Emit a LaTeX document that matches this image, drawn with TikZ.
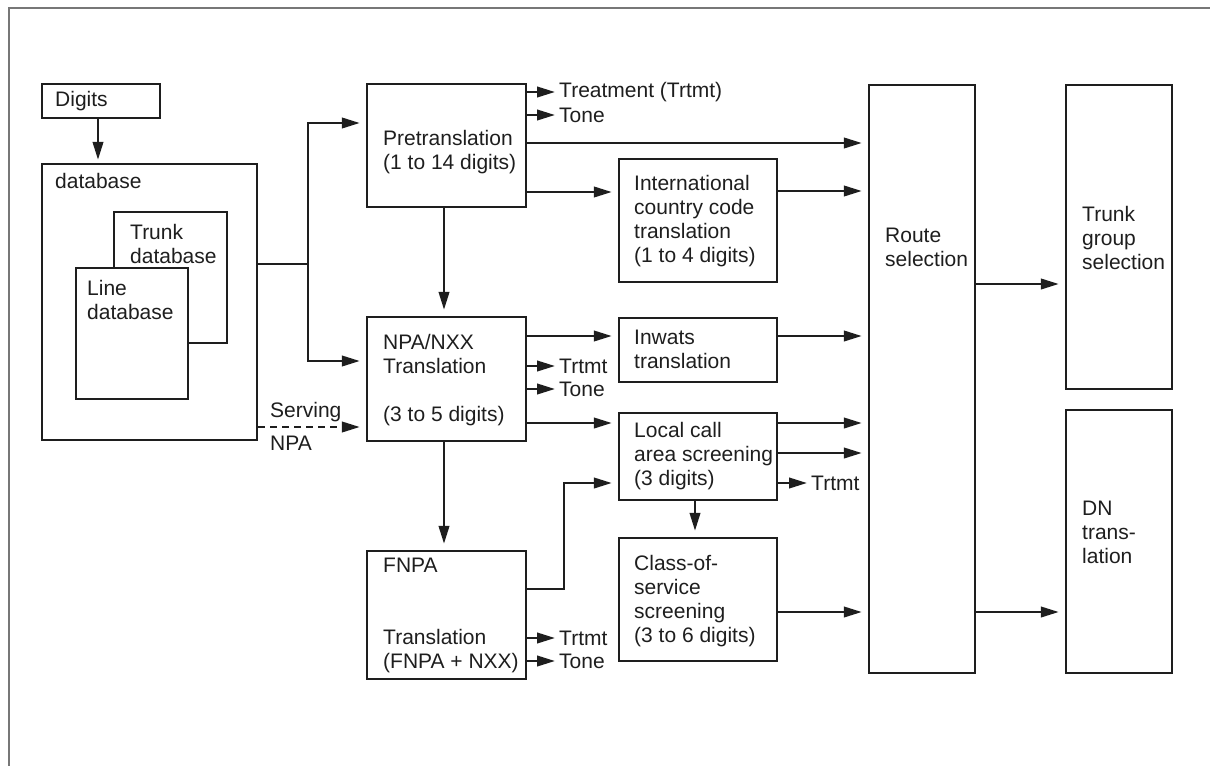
\documentclass[tikz,border=0pt]{standalone}
\usepackage{fontspec}
\setmainfont{Liberation Sans}
\usetikzlibrary{arrows.meta,fit}
\definecolor{ink}{HTML}{1E1E1E}
\definecolor{framec}{HTML}{777777}
\tikzset{
  box/.style={draw=ink, line width=2.4pt, inner sep=0pt},
  txt/.style={font=\fontsize{21pt}{24pt}\selectfont, text=ink, align=left, inner sep=0pt, anchor=west},
  ln/.style={draw=ink, line width=2.4pt},
  arr/.style={draw=ink, line width=2.4pt, -{Triangle[length=18pt,width=10.5pt]}, shorten >=6pt},
  arrt/.style={arr, shorten >=4pt},
  frameline/.style={draw=framec, line width=2pt},
}
\begin{document}
\begin{tikzpicture}[x=1pt,y=-1pt]
\useasboundingbox (0,0) rectangle (1210,766);
\draw[frameline] (1210,8) -- (9,8) -- (9,766);

% helper levels
\foreach \v in {123,143,191,192,264,284,336,361,423,427,453,589,612} {\coordinate (h\v) at (0,\v);}
\coordinate (v444) at (444,0);
\coordinate (v695) at (695,0);
\coordinate (c564) at (564,483);

% boxes
\node[box, fit={(42,84)(160,118)}] (digits) {};
\node[txt] (digitsT) at (55,101) {Digits};
\node[box, fit={(42,164)(257,440)}] (db) {};
\node[txt] (dbT) at (55,181) {database};
\node[box, fit={(114,212)(227,343)}] (tdb) {};
\node[txt] (tdbT) at (130,243.5) {Trunk\\database};
\node[box, fill=white, fit={(76,268)(188,399)}] (ldb) {};
\node[txt] (ldbT) at (87,299.5) {Line\\database};

\node[box, fit={(367,84)(526,207)}] (pre) {};
\node[txt] (preT) at (383,152) {Pretranslation\\(1 to 14 digits)};
\node[box, fit={(367,317)(526,441)}] (npa) {};
\node[txt] (npaT) at (383,380) {NPA/NXX\\Translation\\[24pt](3 to 5 digits)};
\node[box, fit={(367,551)(526,679)}] (fnpa) {};
\node[txt] (fnpaT) at (383,615.5) {FNPA\\[48pt]Translation\\(FNPA + NXX)};

\node[box, fit={(619,159)(777,282)}] (intl) {};
\node[txt] (intlT) at (634,221.5) {International\\country code\\translation\\(1 to 4 digits)};
\node[box, fit={(619,318)(777,382)}] (inwats) {};
\node[txt] (inwatsT) at (634,349) {Inwats\\translation};
\node[box, fit={(619,413)(777,500)}] (local) {};
\node[txt] (localT) at (634,456) {Local call\\area screening\\(3 digits)};
\node[box, fit={(619,538)(777,661)}] (class) {};
\node[txt] (classT) at (634,601.5) {Class-of-\\service\\screening\\(3 to 6 digits)};

\node[box, fit={(869,85)(975,673)}] (route) {};
\node[txt] (routeT) at (885,247) {Route\\selection};
\node[box, fit={(1066,85)(1172,389)}] (trunkg) {};
\node[txt] (trunkgT) at (1082,238) {Trunk\\group\\selection};
\node[box, fit={(1066,410)(1172,673)}] (dn) {};
\node[txt] (dnT) at (1082,532) {DN\\trans-\\lation};

% side labels
\node[txt] (l1) at (559,92) {Treatment (Trtmt)};
\node[txt] (l2) at (559,115) {Tone};
\node[txt] (l3) at (559,366) {Trtmt};
\node[txt] (l4) at (559,389) {Tone};
\node[txt] (l5) at (811,483) {Trtmt};
\node[txt] (l6) at (559,638) {Trtmt};
\node[txt] (l7) at (559,661) {Tone};
\node[txt] (serv) at (270,412) {Serving};
\node[txt] (snpa) at (270,443) {NPA};

% connectors
\draw[arr, shorten >=3pt] ([xshift=-3pt]digits.south) -- ([xshift=-3pt]digits.south |- db.north);
\coordinate (j) at (308,264);
\draw[ln] (db.east |- j) -- (j);
\draw[arr] (j) |- (pre.west |- h123);
\draw[arr] (j) |- (npa.west |- h361);
\draw[arr, dash pattern=on 7pt off 5pt] (db.east |- h427) -- (npa.west |- h427);

\draw[arr] (pre.south -| v444) -- (npa.north -| v444);
\draw[arrt] (pre.east |- l1) -- (l1.west);
\draw[arrt] (pre.east |- l2) -- (l2.west);
\draw[arr] (pre.east |- h143) -- (route.west |- h143);
\draw[arr] (pre.east |- h192) -- (intl.west |- h192);
\draw[arr] (intl.east |- h191) -- (route.west |- h191);

\draw[arr] (npa.east |- h336) -- (inwats.west |- h336);
\draw[arr] (inwats.east |- h336) -- (route.west |- h336);
\draw[arrt] (npa.east |- l3) -- (l3.west);
\draw[arrt] (npa.east |- l4) -- (l4.west);
\draw[arr] (npa.east |- h423) -- (local.west |- h423);
\draw[arr] (local.east |- h423) -- (route.west |- h423);
\draw[arr] (local.east |- h453) -- (route.west |- h453);
\draw[arrt] (local.east |- l5) -- (l5.west);
\draw[arr] (npa.south -| v444) -- (fnpa.north -| v444);

\draw[arr] (fnpa.east |- h589) -| (c564) -- (local.west |- c564);
\draw[arr] (local.south -| v695) -- (class.north -| v695);
\draw[arr] (class.east |- h612) -- (route.west |- h612);
\draw[arrt] (fnpa.east |- l6) -- (l6.west);
\draw[arrt] (fnpa.east |- l7) -- (l7.west);

\draw[arr] (route.east |- h284) -- (trunkg.west |- h284);
\draw[arr] (route.east |- h612) -- (dn.west |- h612);
\end{tikzpicture}
\end{document}
